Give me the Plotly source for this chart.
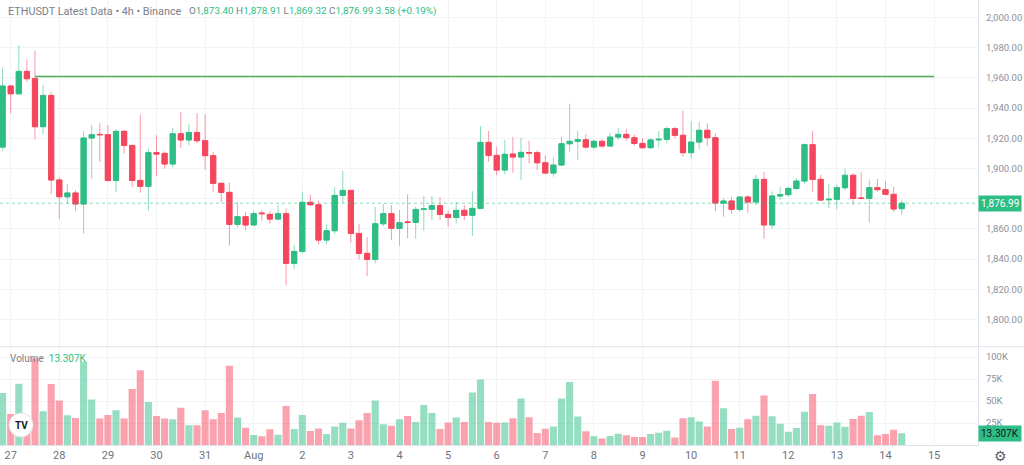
import pandas as pd
import plotly.graph_objects as go

# 4h ETHUSDT candles (first candle = 26 Jul 20:00)
opens = [1914.2, 1954.6, 1949.5, 1964.3, 1959.5, 1927.7, 1948.4, 1892.4, 1881.3, 1883.8,
         1876.5, 1920.2, 1922.6, 1922.4, 1892.1, 1924.6, 1915.3, 1892.1, 1888.2, 1910.5,
         1910.0, 1903.0, 1923.0, 1918.9, 1923.9, 1918.4, 1908.5, 1890.2, 1884.2, 1863.0,
         1868.1, 1862.6, 1870.5, 1869.6, 1866.5, 1870.1, 1837.2, 1845.1, 1877.6, 1876.0,
         1852.6, 1858.8, 1882.2, 1885.5, 1857.0, 1843.8, 1839.8, 1863.4, 1870.1, 1860.4,
         1864.6, 1864.3, 1873.0, 1873.0, 1875.4, 1869.6, 1867.6, 1872.3, 1869.0, 1873.6,
         1917.3, 1908.7, 1899.0, 1909.6, 1907.6, 1910.6, 1910.5, 1903.8, 1897.0, 1902.3,
         1916.4, 1918.0, 1919.0, 1914.2, 1918.0, 1914.9, 1920.8, 1922.6, 1920.4, 1916.6,
         1913.8, 1919.0, 1919.3, 1926.4, 1922.0, 1910.5, 1917.5, 1925.3, 1920.4, 1877.1,
         1878.5, 1872.9, 1881.1, 1877.8, 1892.8, 1862.6, 1881.8, 1882.7, 1886.8, 1891.7,
         1915.8, 1892.8, 1879.3, 1879.6, 1887.3, 1895.5, 1880.5, 1880.2, 1887.3, 1886.0,
         1882.9, 1873.40]
highs = [1967.0, 1955.2, 1981.5, 1972.3, 1978.0, 1955.5, 1950.9, 1894.0, 1889.7, 1885.7,
         1924.6, 1929.0, 1930.0, 1928.8, 1926.0, 1925.5, 1915.5, 1935.8, 1913.1, 1922.0,
         1911.3, 1926.8, 1937.4, 1929.4, 1936.7, 1936.0, 1911.0, 1890.6, 1890.8, 1878.0,
         1871.2, 1872.0, 1872.3, 1871.4, 1875.8, 1873.6, 1849.5, 1884.6, 1882.7, 1878.6,
         1863.0, 1887.5, 1898.3, 1885.7, 1863.2, 1854.6, 1874.5, 1876.5, 1875.8, 1872.5,
         1882.9, 1874.7, 1881.8, 1881.8, 1881.1, 1872.3, 1877.8, 1875.8, 1885.0, 1928.1,
         1924.8, 1914.4, 1918.9, 1920.8, 1920.2, 1918.4, 1912.2, 1908.7, 1907.4, 1921.0,
         1943.0, 1925.0, 1922.8, 1919.1, 1919.3, 1923.7, 1926.8, 1926.4, 1922.6, 1920.2,
         1920.0, 1924.8, 1927.7, 1927.5, 1938.3, 1931.4, 1930.8, 1929.9, 1923.3, 1880.2,
         1881.3, 1881.8, 1882.2, 1895.9, 1897.7, 1884.8, 1887.8, 1887.8, 1893.5, 1916.6,
         1925.0, 1895.9, 1889.7, 1889.3, 1899.9, 1896.8, 1897.4, 1892.8, 1893.0, 1891.5,
         1887.7, 1878.91]
lows = [1911.8, 1936.5, 1948.9, 1957.3, 1919.3, 1922.8, 1882.9, 1866.5, 1876.5, 1872.0,
        1857.0, 1893.0, 1904.3, 1891.3, 1884.4, 1910.0, 1887.5, 1884.0, 1872.0, 1894.8,
        1900.0, 1900.7, 1913.6, 1915.3, 1916.6, 1899.0, 1884.6, 1877.6, 1849.1, 1861.0,
        1859.0, 1862.4, 1865.4, 1863.4, 1865.8, 1822.6, 1833.6, 1843.8, 1875.2, 1849.8,
        1849.8, 1856.6, 1876.9, 1851.0, 1839.8, 1828.8, 1837.2, 1861.9, 1852.6, 1848.7,
        1853.7, 1853.5, 1858.8, 1865.8, 1866.0, 1861.4, 1863.7, 1865.8, 1855.3, 1873.2,
        1904.5, 1895.5, 1896.1, 1897.2, 1892.4, 1903.4, 1899.0, 1896.3, 1894.6, 1901.9,
        1911.1, 1905.6, 1913.1, 1912.7, 1914.0, 1914.4, 1918.9, 1918.2, 1915.1, 1913.1,
        1913.1, 1914.0, 1916.6, 1920.2, 1907.8, 1906.5, 1913.1, 1914.9, 1871.8, 1868.1,
        1870.1, 1871.4, 1870.7, 1875.8, 1853.5, 1860.1, 1879.1, 1881.5, 1885.7, 1890.0,
        1884.6, 1878.7, 1873.8, 1873.2, 1885.7, 1876.0, 1879.6, 1864.3, 1884.6, 1882.2,
        1871.2, 1869.32]
closes = [1954.6, 1949.5, 1964.3, 1959.5, 1927.7, 1948.4, 1892.4, 1881.3, 1883.8, 1876.5,
          1920.2, 1922.4, 1922.4, 1892.1, 1924.6, 1915.3, 1892.1, 1888.2, 1910.5, 1909.6,
          1903.0, 1923.0, 1918.9, 1923.9, 1918.4, 1908.5, 1890.2, 1884.2, 1863.0, 1868.1,
          1862.6, 1870.1, 1870.1, 1866.5, 1870.1, 1837.2, 1845.1, 1877.6, 1876.0, 1852.6,
          1858.8, 1882.2, 1885.5, 1857.0, 1843.8, 1839.8, 1863.4, 1870.1, 1860.4, 1864.1,
          1864.4, 1872.9, 1873.2, 1875.4, 1869.6, 1867.6, 1872.3, 1869.0, 1873.6, 1917.3,
          1908.7, 1899.0, 1909.4, 1907.6, 1910.7, 1910.3, 1903.8, 1897.0, 1902.3, 1916.4,
          1918.0, 1919.1, 1914.2, 1918.0, 1914.9, 1920.8, 1922.6, 1920.4, 1916.6, 1913.8,
          1918.9, 1919.3, 1926.4, 1922.0, 1910.5, 1917.5, 1925.3, 1920.4, 1877.1, 1878.5,
          1872.9, 1881.1, 1877.8, 1892.8, 1862.6, 1881.8, 1882.7, 1886.8, 1891.7, 1915.8,
          1892.8, 1879.1, 1879.6, 1887.3, 1895.5, 1880.2, 1880.2, 1887.3, 1886.0, 1882.9,
          1873.2, 1876.99]
volumes = [59200, 35300, 69700, 22000, 98800, 38300, 69300, 50600, 33800, 30800,
           94700, 51800, 30100, 34200, 39400, 30100, 63700, 85000, 48800, 33100,
           30100, 29300, 42400, 22600, 22600, 39400, 29300, 36400, 90200, 31200,
           19600, 11400, 9900, 17800, 11800, 44300, 18100, 34200, 15900, 18900,
           12500, 21100, 25200, 18900, 28200, 36400, 50600, 23700, 21900, 29300,
           33100, 26300, 45400, 36400, 18100, 25600, 31200, 26300, 59600, 74600,
           26300, 25200, 25600, 30500, 52900, 31600, 13600, 18500, 21100, 52900,
           71600, 32300, 15500, 9900, 7300, 10300, 12900, 11000, 9200, 9200,
           12500, 14000, 16300, 8400, 30500, 31600, 26700, 21100, 73000, 41700,
           18100, 19600, 29300, 33400, 56200, 32700, 24100, 15100, 19200, 37900,
           58100, 22600, 21900, 25600, 20700, 29700, 33400, 37600, 11000, 12500,
           17400, 13307]

day_labels = ["27", "28", "29", "30", "31", "Aug", "2", "3", "4", "5",
              "6", "7", "8", "9", "10", "11", "12", "13", "14", "15"]
price_ticks = [1800, 1820, 1840, 1860, 1880, 1900, 1920, 1940, 1960, 1980, 2000]
level_price = 1961.0
last_price = 1876.99
last_volume = 13307

times = pd.date_range("2023-07-26 20:00", periods=len(closes), freq="4h")
day_ticks = pd.date_range("2023-07-27", periods=len(day_labels), freq="D")

UP = "#2EBD85"
DOWN = "#F6465D"
GRAY = "#7b7e88"
GRID = "#f2f3f6"
BORDER = "#e0e3eb"

body_hi = [max(o, c) for o, c in zip(opens, closes)]
body_lo = [min(o, c) for o, c in zip(opens, closes)]
vol_colors = ["rgba(46,189,133,0.5)" if c >= o else "rgba(246,70,93,0.5)"
              for o, c in zip(opens, closes)]
# the 1,880 label sits under the last-price tag
price_text = ["" if abs(v - last_price) < 10 else f"{v:,.2f}" for v in price_ticks]

fig = go.Figure()

# wicks (lighter)
fig.add_trace(go.Candlestick(
    x=times, open=opens, high=highs, low=lows, close=closes,
    increasing=dict(line=dict(color="rgba(46,189,133,0.55)", width=1), fillcolor="rgba(0,0,0,0)"),
    decreasing=dict(line=dict(color="rgba(246,70,93,0.55)", width=1), fillcolor="rgba(0,0,0,0)"),
    hoverinfo="skip", showlegend=False))
# bodies
fig.add_trace(go.Candlestick(
    x=times, open=opens, high=body_hi, low=body_lo, close=closes,
    increasing=dict(line=dict(color=UP, width=1), fillcolor=UP),
    decreasing=dict(line=dict(color=DOWN, width=1), fillcolor=DOWN),
    showlegend=False))

fig.add_trace(go.Bar(x=times, y=volumes, marker=dict(color=vol_colors, line=dict(width=0)),
                     yaxis="y2", showlegend=False, hoverinfo="skip"))

# horizontal level drawn on the chart
fig.add_trace(go.Scatter(x=[times[4], day_ticks[-1]], y=[level_price, level_price],
                         mode="lines", line=dict(color="#4CAF50", width=1.5),
                         showlegend=False, hoverinfo="skip"))

plot_w = 1024 - 46
px_per_bar = 8.1
x_left = times[0] - pd.Timedelta(hours=4 * 2.6 / px_per_bar)
x_right = times[0] + pd.Timedelta(hours=4 * (plot_w - 2.6) / px_per_bar)
split = 0.2209

fig.update_layout(
    width=1024, height=465,
    margin=dict(l=0, r=46, t=0, b=20),
    paper_bgcolor="white", plot_bgcolor="white",
    font=dict(family="Roboto, sans-serif", size=11, color=GRAY),
    boxgap=0.2, boxgroupgap=0.2, bargap=0.12,
    hovermode=False,
    xaxis=dict(
        type="date", range=[x_left, x_right], anchor="y2",
        rangeslider=dict(visible=False),
        tickvals=day_ticks, ticktext=day_labels,
        showgrid=True, gridcolor=GRID, gridwidth=1,
        showline=True, linecolor=BORDER, ticks="",
        tickfont=dict(size=11, color="#6f727c"),
    ),
    yaxis=dict(
        domain=[split, 1], range=[1782, 2011.6], side="right",
        tickvals=price_ticks, ticktext=price_text,
        showgrid=True, gridcolor=GRID, zeroline=False,
        showline=True, linecolor=BORDER, ticks="", ticklabelstandoff=5,
        tickfont=dict(size=9.5, color="#8d9099"),
    ),
    yaxis2=dict(
        domain=[0, split], range=[0, 111800], side="right", anchor="x",
        tickvals=[25000, 50000, 75000, 100000], ticktext=["25K", "50K", "75K", "100K"],
        showgrid=True, gridcolor=GRID, zeroline=False,
        showline=True, linecolor=BORDER, ticks="", ticklabelstandoff=5,
        tickfont=dict(size=9.5, color="#8d9099"),
    ),
)

# current price dotted line and pane separator
fig.add_shape(type="line", xref="paper", yref="y", x0=0, x1=1, y0=last_price, y1=last_price,
              line=dict(color="rgba(46,189,133,0.55)", width=1, dash="dot"))
fig.add_shape(type="line", xref="paper", yref="paper", x0=0, x1=1024 / plot_w, y0=split, y1=split,
              line=dict(color=BORDER, width=1))

# header
fig.add_annotation(xref="paper", yref="paper", x=6 / plot_w, y=(445 - 11) / 445,
                   xanchor="left", yanchor="middle", showarrow=False,
                   text="ETHUSDT Latest Data • 4h • Binance",
                   font=dict(size=10.8, color=GRAY))
ohlc = ("<span style='color:%s'>O</span>1,873.40 <span style='color:%s'>H</span>1,878.91 "
        "<span style='color:%s'>L</span>1,869.32 <span style='color:%s'>C</span>1,876.99 "
        "3.58 (+0.19%%)") % (GRAY, GRAY, GRAY, GRAY)
fig.add_annotation(xref="paper", yref="paper", x=187 / plot_w, y=(445 - 11) / 445,
                   xanchor="left", yanchor="middle", showarrow=False,
                   text=ohlc, font=dict(size=9.9, color=UP))
fig.add_annotation(xref="paper", yref="paper", x=8 / plot_w, y=(445 - 358) / 445,
                   xanchor="left", yanchor="middle", showarrow=False,
                   text="Volume  <span style='color:%s'>13.307K</span>" % UP,
                   font=dict(size=10, color=GRAY))

# axis price / volume tags
fig.add_annotation(xref="paper", yref="y", x=1, y=last_price, xanchor="left", yanchor="middle",
                   showarrow=False, text="1,876.99", bgcolor=UP, borderpad=2,
                   font=dict(size=10, color="white"))
fig.add_annotation(xref="paper", yref="y2", x=1, y=last_volume, xanchor="left", yanchor="middle",
                   showarrow=False, text="13.307K", bgcolor=UP, borderpad=2,
                   font=dict(size=10, color="#131722"))

# TradingView logo and settings icon
fig.add_shape(type="circle", xref="paper", yref="paper",
              x0=9 / plot_w, x1=33 / plot_w, y0=(445 - 437) / 445, y1=(445 - 413) / 445,
              fillcolor="white", line=dict(color="#e3e4e8", width=1))
fig.add_annotation(xref="paper", yref="paper", x=21 / plot_w, y=(445 - 425) / 445,
                   xanchor="center", yanchor="middle", showarrow=False,
                   text="<b>TV</b>", font=dict(size=10, color="#131722"))
fig.add_annotation(xref="paper", yref="paper", x=1000 / plot_w, y=(445 - 456) / 445,
                   xanchor="center", yanchor="middle", showarrow=False,
                   text="⚙", font=dict(size=14, color="#5d606b"))

# the page's default body margin would shift the figure by 8px
fig.write_html("out.html", config={"displayModeBar": False},
               post_script="document.body.style.margin='0';")
